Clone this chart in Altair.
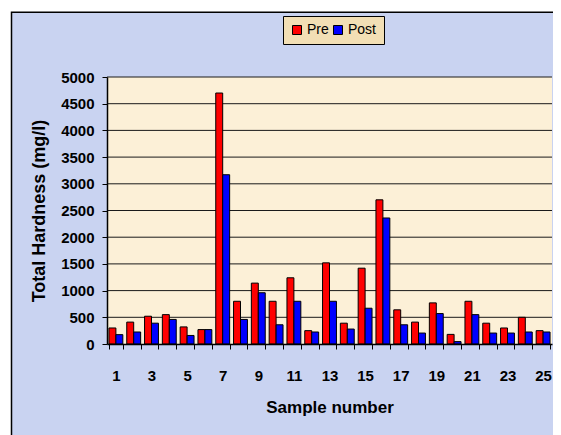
import altair as alt
import pandas as pd

samples = list(range(1, 26))
pre = [300, 410, 520, 550, 320, 270, 4700, 800, 1140, 800, 1240, 250, 1520, 390, 1420, 2700, 640, 410, 770, 180, 800, 390, 300, 500, 250]
post = [175, 225, 390, 460, 160, 270, 3170, 460, 960, 360, 800, 225, 800, 280, 670, 2360, 360, 205, 570, 45, 550, 205, 205, 225, 225]
series = ["Pre", "Post"]
colors = ["#ff0000", "#0000ff"]
y_ticks = list(range(0, 5001, 500))
grid_vals = list(range(500, 5001, 500))

rows = []
for s, a, b in zip(samples, pre, post):
    rows.append({"sample": s, "series": "Pre", "value": a})
    rows.append({"sample": s, "series": "Post", "value": b})
df = pd.DataFrame(rows)

FONT = "Liberation Sans, Arial, sans-serif"
W, H = 445, 267
dummy = pd.DataFrame({"d": [0]})

y_axis = alt.Axis(
    title="Total Hardness (mg/l)",
    titleFont=FONT, titleFontSize=18, titleFontWeight="bold", titleColor="#000000",
    titleX=-68, titleBaseline="middle",
    values=y_ticks, format="d",
    labelFont=FONT, labelFontSize=15, labelFontWeight="bold", labelColor="#000000",
    labelPadding=8, tickSize=5, tickColor="#000000", domainColor="#000000",
    domainWidth=1.5, grid=False, zindex=1,
)
y_scale = alt.Scale(domain=[0, 5000], nice=False)

frame = alt.Chart(dummy).mark_rect(fill="#c9d3f1", stroke="#000000", strokeWidth=1.5).encode(
    x=alt.value(-95.5), x2=alt.value(470), y=alt.value(-64.8), y2=alt.value(420)
)
plotbg = alt.Chart(dummy).mark_rect(fill="#fcf0d7").encode(
    x=alt.value(0), x2=alt.value(W), y=alt.value(0), y2=alt.value(H)
)
grid = alt.Chart(pd.DataFrame({"value": grid_vals})).mark_rule(color="#1a1a1a", strokeWidth=1).encode(
    y=alt.Y("value:Q", axis=y_axis, scale=y_scale)
)

bars = alt.Chart(df).mark_bar(stroke="#000000", strokeWidth=1).encode(
    x=alt.X(
        "sample:O",
        sort=samples,
        scale=alt.Scale(paddingInner=0.22, paddingOuter=0.11),
        axis=alt.Axis(
            title="Sample number",
            titleFont=FONT, titleFontSize=17, titleFontWeight="bold", titleColor="#000000",
            titleY=63, titleBaseline="middle",
            labelExpr="datum.value % 2 == 1 ? datum.label : ''",
            labelAngle=0, labelFont=FONT, labelFontSize=15, labelFontWeight="bold",
            labelColor="#000000", labelPadding=19, labelOverlap=False, labelFlush=False,
            tickBand="extent", tickSize=5, tickColor="#000000", domainColor="#000000",
            domainWidth=1.5, grid=False, zindex=1,
        ),
    ),
    xOffset=alt.XOffset("series:N", sort=series, scale=alt.Scale(paddingInner=0, paddingOuter=0)),
    y=alt.Y("value:Q", scale=y_scale, axis=y_axis),
    color=alt.Color(
        "series:N",
        sort=series,
        scale=alt.Scale(domain=series, range=colors),
        legend=alt.Legend(
            title=None, orient="none", legendX=176, legendY=-61, direction="horizontal",
            fillColor="#f2dfb5", strokeColor="#000000", padding=7,
            symbolType="square", symbolSize=81, symbolStrokeColor="#000000",
            symbolStrokeWidth=1, symbolOpacity=1,
            labelFont=FONT, labelFontSize=14, labelColor="#000000", labelOffset=3,
            columnPadding=2, zindex=1,
        ),
    ),
)

chart = alt.layer(frame, plotbg, grid, bars).properties(
    width=W, height=H,
    autosize=alt.AutoSizeParams(type="none"),
    padding={"left": 99, "top": 69, "right": 1, "bottom": 91},
    background="#ffffff",
).configure_view(strokeWidth=0)

chart.save("out.html", embed_options={"renderer": "svg", "actions": False})
